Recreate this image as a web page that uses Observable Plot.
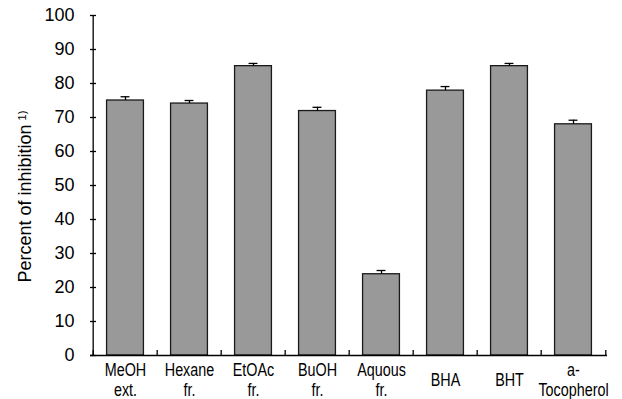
<!DOCTYPE html>
<html>
<head>
<meta charset="utf-8">
<script src="https://cdn.jsdelivr.net/npm/d3@7"></script>
<script src="https://cdn.jsdelivr.net/npm/@observablehq/plot@0.6"></script>
<style>
  html, body { margin: 0; padding: 0; background: #fff; }
  #chart svg { display: block; }
</style>
</head>
<body>
<div id="chart"></div>
<script>
const categories = ["MeOH\next.", "Hexane\nfr.", "EtOAc\nfr.", "BuOH\nfr.", "Aquous\nfr.", "BHA", "BHT", "a-\nTocopherol"];
const values = [75.0, 74.1, 85.1, 71.9, 23.9, 77.9, 85.1, 68.0];
const errors = [1.1, 0.9, 0.8, 1.1, 1.1, 1.2, 0.8, 1.2];
const yTicks = [0, 10, 20, 30, 40, 50, 60, 70, 80, 90, 100];
const yLabel = "Percent of inhibition";
const yLabelNote = "1)";

const data = categories.map((c, i) => ({cat: c, value: values[i], top: values[i] + errors[i]}));

const W = 622, H = 399;
const mL = 90, mR = 15, mT = 15, mB = 44;
const step = (W - mL - mR) / categories.length;
const barInset = step * 0.21;
const capInset = (step - 9.5) / 2;
const last = categories[categories.length - 1];

const chart = Plot.plot({
  width: W,
  height: H,
  marginLeft: mL,
  marginRight: mR,
  marginTop: mT,
  marginBottom: mB,
  style: {fontFamily: "'Liberation Sans', Arial, sans-serif", background: "#fff", color: "#000"},
  x: {domain: categories, padding: 0, label: null},
  y: {domain: [0, 100], label: null},
  marks: [
    Plot.barY(data, {x: "cat", y: "value", fill: "#999999", stroke: "#1a1a1a", strokeWidth: 1.3, insetLeft: barInset, insetRight: barInset}),
    Plot.ruleX(data, {x: "cat", y1: "value", y2: "top", stroke: "#000", strokeWidth: 1.3}),
    Plot.tickY(data, {x: "cat", y: "top", stroke: "#000", strokeWidth: 1.3, insetLeft: capInset, insetRight: capInset}),
    // axis lines
    Plot.ruleY([0], {stroke: "#000", strokeWidth: 1.3}),
    Plot.ruleX([categories[0]], {x: d => d, y1: 0, y2: 100, dx: -step / 2, stroke: "#000", strokeWidth: 1.3}),
    // x boundary ticks (inward)
    Plot.ruleX(categories, {x: d => d, y1: 0, y2: 0, insetTop: -5, dx: -step / 2, stroke: "#000", strokeWidth: 1.3}),
    Plot.ruleX([last], {x: d => d, y1: 0, y2: 0, insetTop: -5, dx: step / 2, stroke: "#000", strokeWidth: 1.3}),
    // y ticks (inward) and labels
    Plot.axisY({ticks: yTicks, tickSize: 6, dx: 6, text: null, stroke: "#000", strokeWidth: 1.3}),
    Plot.axisY({ticks: yTicks, tickSize: 0, tickPadding: 16, label: null, fontSize: 18, fill: "#000"}),
    Plot.axisX({tickSize: 0, tickPadding: 24, lineAnchor: "middle", lineHeight: 1.17, label: null, fontSize: 17.5, fill: "#000"}),
    // y title
    Plot.text([yLabel], {text: d => d, frameAnchor: "left", textAnchor: "middle", rotate: -90, dx: -65, dy: 18, fontSize: 18, fill: "#000"}),
    Plot.text([yLabelNote], {text: d => d, frameAnchor: "top-left", textAnchor: "middle", rotate: -90, dx: -72, dy: 100, fontSize: 11, fill: "#000"})
  ]
});
// condense the category labels horizontally (reference uses a narrow face)
d3.select(chart).selectAll('g[aria-label="x-axis tick label"] text').each(function() {
  const t = this.getAttribute("transform");
  if (t) this.setAttribute("transform", t + " scale(0.82,1)");
});
document.getElementById("chart").appendChild(chart);
</script>
</body>
</html>
